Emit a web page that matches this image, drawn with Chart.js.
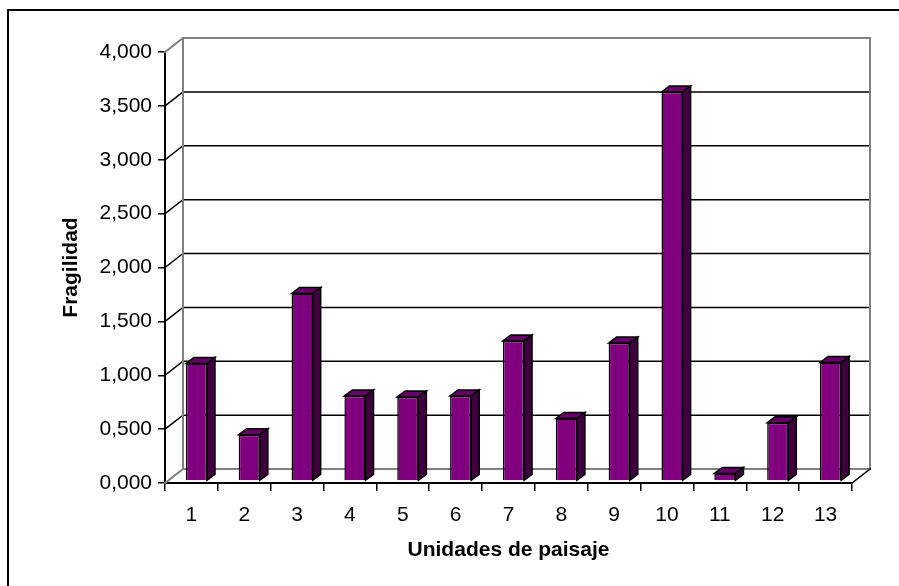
<!DOCTYPE html>
<html>
<head>
<meta charset="utf-8">
<script src="https://cdn.jsdelivr.net/npm/chart.js@4/dist/chart.umd.min.js"></script>
<style>
  html, body { margin: 0; padding: 0; background: #fff; }
  #wrap { width: 899px; height: 586px; }
</style>
</head>
<body>
<div id="wrap"><canvas id="fragChart" width="899" height="586"></canvas></div>
<script>
// data
const unidades = ['1', '2', '3', '4', '5', '6', '7', '8', '9', '10', '11', '12', '13'];
const fragilidad = [1.09, 0.43, 1.74, 0.79, 0.78, 0.79, 1.30, 0.58, 1.28, 3.61, 0.07, 0.54, 1.10];
const yTickLabels = ['0,000', '0,500', '1,000', '1,500', '2,000', '2,500', '3,000', '3,500', '4,000'];

// 3D look
const wallDx = 18, wallDy = -14;   // back wall offset
const barDx = 8, barDy = -6;       // bar depth
const barShiftX = 5, barShiftY = -2;
const font = 'Liberation Sans, Arial, sans-serif';

const fake3d = {
    id: 'fake3d',
    beforeDraw(chart) {
        const ctx = chart.ctx;
        ctx.save();
        ctx.fillStyle = '#fff';
        ctx.fillRect(0, 0, chart.width, chart.height);
        ctx.strokeStyle = '#000';
        ctx.lineWidth = 2;
        ctx.strokeRect(8, 10, chart.width + 20, chart.height + 20);
        ctx.restore();
    },
    beforeDatasetsDraw(chart) {
        const ctx = chart.ctx;
        const y = chart.scales.y, x = chart.scales.x;
        const l = x.left, r = x.right;
        const top = y.getPixelForValue(y.max), bot = y.getPixelForValue(0);
        ctx.save();
        ctx.lineCap = 'square';
        // back wall gridlines + diagonals
        y.ticks.forEach(t => {
            const py = y.getPixelForValue(t.value);
            const edge = t.value === 0 || t.value === y.max;
            ctx.strokeStyle = edge ? '#808080' : '#000';
            ctx.lineWidth = edge ? 2 : 1.5;
            ctx.beginPath();
            ctx.moveTo(l, py);
            ctx.lineTo(l + wallDx, py + wallDy);
            ctx.lineTo(r + wallDx, py + wallDy);
            ctx.stroke();
        });
        // wall edges
        ctx.strokeStyle = '#808080';
        ctx.lineWidth = 2;
        ctx.beginPath();
        ctx.moveTo(l + wallDx, top + wallDy);
        ctx.lineTo(l + wallDx, bot + wallDy);
        ctx.moveTo(r + wallDx, top + wallDy);
        ctx.lineTo(r + wallDx, bot + wallDy);
        ctx.stroke();
        // floor right edge
        ctx.strokeStyle = '#000';
        ctx.lineWidth = 1.5;
        ctx.beginPath();
        ctx.moveTo(r, bot);
        ctx.lineTo(r + wallDx, bot + wallDy);
        ctx.stroke();
        ctx.restore();

        ctx.save();
        ctx.translate(barShiftX, barShiftY);
    },
    afterDatasetsDraw(chart) {
        const ctx = chart.ctx;
        const meta = chart.getDatasetMeta(0);
        ctx.lineWidth = 1.5;
        ctx.strokeStyle = '#000';
        ctx.lineJoin = 'miter';
        meta.data.forEach(bar => {
            const p = bar.getProps(['x', 'y', 'base', 'width'], true);
            const bl = p.x - p.width / 2, br = p.x + p.width / 2;
            // top face
            ctx.fillStyle = '#660066';
            ctx.beginPath();
            ctx.moveTo(bl, p.y);
            ctx.lineTo(bl + barDx, p.y + barDy);
            ctx.lineTo(br + barDx, p.y + barDy);
            ctx.lineTo(br, p.y);
            ctx.closePath();
            ctx.fill();
            ctx.stroke();
            // side face
            ctx.fillStyle = '#400040';
            ctx.beginPath();
            ctx.moveTo(br, p.y);
            ctx.lineTo(br + barDx, p.y + barDy);
            ctx.lineTo(br + barDx, p.base + barDy);
            ctx.lineTo(br, p.base);
            ctx.closePath();
            ctx.fill();
            ctx.stroke();
        });
        ctx.restore();
    }
};

const ctx = document.getElementById('fragChart').getContext('2d');
const fragChart = new Chart(ctx, {
    type: 'bar',
    data: {
        labels: unidades,
        datasets: [{
            label: 'Fragilidad',
            data: fragilidad,
            backgroundColor: '#800080',
            borderColor: '#000',
            borderWidth: 1.5,
            barPercentage: 0.4,
            categoryPercentage: 1
        }]
    },
    options: {
        responsive: false,
        animation: false,
        layout: { padding: { left: 59, top: 52, right: 47, bottom: 23 } },
        plugins: {
            legend: { display: false },
            tooltip: { enabled: false }
        },
        scales: {
            x: {
                afterFit(scale) { scale.height = 80; },
                grid: { drawOnChartArea: false, tickLength: 8, color: '#000', lineWidth: 1.5 },
                border: { color: '#000', width: 2 },
                ticks: { color: '#000', padding: 12, font: { family: font, size: 21 } },
                title: {
                    display: true,
                    text: 'Unidades de paisaje',
                    color: '#000',
                    padding: 0,
                    font: { family: font, size: 21, weight: 'bold' }
                }
            },
            y: {
                min: 0,
                max: 4,
                afterFit(scale) { scale.width = 106; },
                grid: { drawOnChartArea: false, tickLength: 7, color: '#000', lineWidth: 1.5 },
                border: { color: '#000', width: 2 },
                ticks: {
                    stepSize: 0.5,
                    color: '#000',
                    padding: 6,
                    font: { family: font, size: 21 },
                    callback: (v, i) => yTickLabels[i]
                },
                title: {
                    display: true,
                    text: 'Fragilidad',
                    color: '#000',
                    padding: 0,
                    font: { family: font, size: 21, weight: 'bold' }
                }
            }
        }
    },
    plugins: [fake3d]
});
</script>
</body>
</html>
